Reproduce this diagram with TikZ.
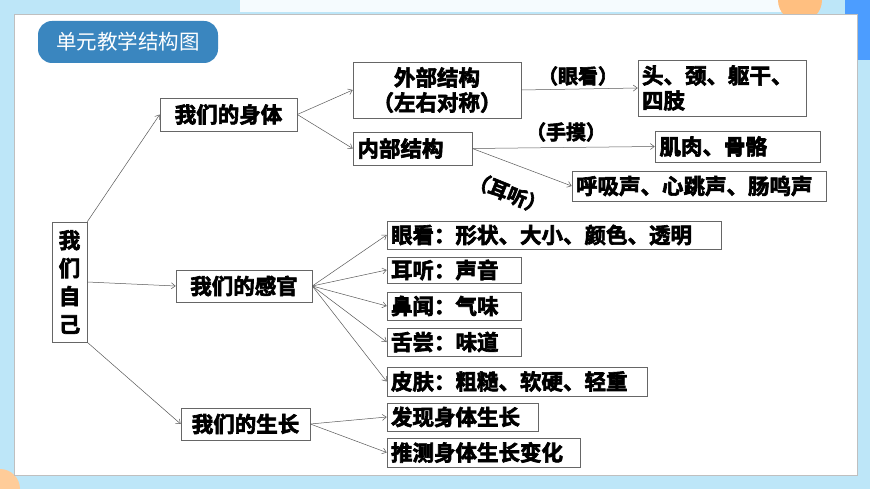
\documentclass[tikz,border=0pt]{standalone}
\usepackage{fontspec}
\setmainfont{Noto Sans CJK SC}
\newfontfamily\cjkb{Noto Sans CJK SC Bold}[FakeBold=3]
\newfontfamily\cjkr{Noto Sans CJK SC}
\usetikzlibrary{arrows.meta}
\definecolor{bgblue}{HTML}{BDE6F8}
\definecolor{tabblue}{HTML}{3A86BF}
\tikzset{
  bx/.style={draw=gray!80!black,line width=0.6pt,fill=white,rectangle,inner sep=0pt,font=\cjkb\fontsize{21.5}{24}\selectfont,align=left},
  lbl/.style={font=\cjkb\fontsize{20}{22}\selectfont},
  con/.style={draw=gray!70!black,line width=0.5pt,-{Straight Barb[length=4pt,width=6pt]}},
}
\begin{document}
\begin{tikzpicture}[x=1pt,y=-1pt]
\useasboundingbox (0,0) rectangle (870,489);
\fill[bgblue] (0,0) rectangle (870,489);
\fill[white!85!bgblue] (240,0) rectangle (790,12);
\begin{scope}
\clip (0,0) rectangle (870,489);
\fill[orange!50] (800,0) circle[radius=22];
\fill[blue!55!cyan!70] (845,0) rectangle (870,60);
\fill[orange!40] (0,489) circle[radius=20];
\end{scope}
\fill[white] (14,14) rectangle (857,475);
\draw[gray!50,line width=0.6pt] (14,14) rectangle (857,475);
\node[fill=tabblue,rounded corners=14pt,minimum width=180pt,minimum height=42pt,text=white,font=\cjkr\fontsize{20.5}{22}\selectfont] (title) at (128,42) {单元教学结构图};
\node[bx,minimum width=35pt,minimum height=120pt,align=center,font=\cjkb\fontsize{21.5}{28}\selectfont] (root) at (69.5,282) {我\\们\\自\\己};
\node[bx,minimum width=137pt,minimum height=33pt] (body) at (228.5,114.5) {我们的身体};
\node[bx,minimum width=136pt,minimum height=32pt] (sense) at (244,286) {我们的感官};
\node[bx,minimum width=129pt,minimum height=32pt] (grow) at (245.5,424) {我们的生长};
\node[bx,minimum width=168pt,minimum height=56pt,align=center,font=\cjkb\fontsize{21.5}{25}\selectfont] (outer) at (437,90) {外部结构\\（左右对称）};
\node[bx,minimum width=119pt,minimum height=33pt,text width=110pt] (inner) at (412.5,148.5) {内部结构};
\node[bx,minimum width=168pt,minimum height=56pt,text width=160pt,font=\cjkb\fontsize{21.5}{25}\selectfont] (limbs) at (722,88) {头、颈、躯干、\\四肢};
\node[bx,minimum width=165pt,minimum height=31pt,text width=156pt] (muscle) at (737.5,146.5) {肌肉、骨骼};
\node[bx,minimum width=254pt,minimum height=30pt,text width=246pt] (sound) at (699,186) {呼吸声、心跳声、肠鸣声};
\node[bx,minimum width=334pt,minimum height=28pt,text width=326pt] (s1) at (554,235) {眼看：形状、大小、颜色、透明};
\node[bx,minimum width=134pt,minimum height=26pt,text width=126pt] (s2) at (454,270) {耳听：声音};
\node[bx,minimum width=134pt,minimum height=28pt,text width=126pt] (s3) at (454,306) {鼻闻：气味};
\node[bx,minimum width=134pt,minimum height=28pt,text width=126pt] (s4) at (454,342) {舌尝：味道};
\node[bx,minimum width=260pt,minimum height=29pt,text width=252pt] (s5) at (517,381.5) {皮肤：粗糙、软硬、轻重};
\node[bx,minimum width=151pt,minimum height=28pt,text width=143pt] (g1) at (462.5,417) {发现身体生长};
\node[bx,minimum width=193pt,minimum height=29pt,text width=185pt] (g2) at (483.5,452.5) {推测身体生长变化};
\node[lbl] (l1) at (578,76) {（眼看）};
\node[lbl] (l2) at (566,132) {（手摸）};
\node[lbl,rotate=-22] (l3) at (508,193) {（耳听）};
\draw[con] (root.north east) -- (body.west);
\draw[con] (root.east) -- (sense.west);
\draw[con] (root.south east) -- (grow.west);
\draw[con] (body.east) -- (outer.west);
\draw[con] (body.east) -- (inner.west);
\draw[con] (outer.east) -- (limbs.west);
\draw[con] (inner.east) -- (muscle.west);
\draw[con] (inner.east) -- (sound.west);
\foreach \t in {s1,s2,s3,s4,s5} \draw[con] (sense.east) -- (\t.west);
\draw[con] (grow.east) -- (g1.west);
\draw[con] (grow.east) -- (g2.west);
\end{tikzpicture}
\end{document}
